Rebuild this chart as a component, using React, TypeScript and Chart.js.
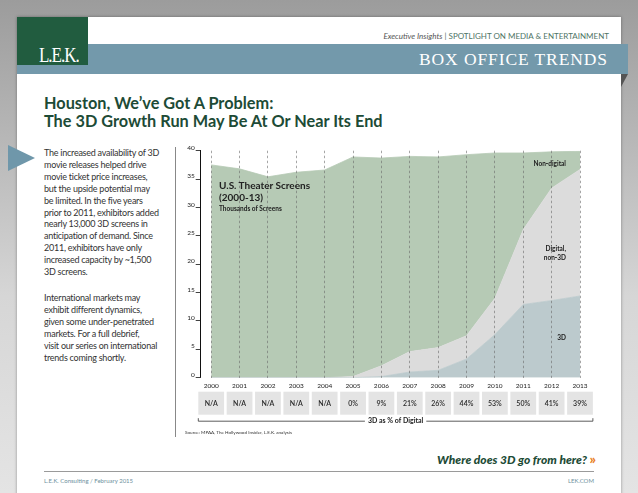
import React, { useEffect, useRef } from "react";
import { Chart, registerables } from "chart.js";

Chart.register(...registerables);

// ---- data ----
const years = [2000, 2001, 2002, 2003, 2004, 2005, 2006, 2007, 2008, 2009, 2010, 2011, 2012, 2013];
const screens3D = [0, 0, 0, 0, 0, 0, 0.2, 1.0, 1.3, 3.3, 7.6, 12.9, 13.6, 14.4];
const screensDigitalNon3D = [0, 0, 0, 0, 0, 0.2, 1.9, 3.6, 4.0, 4.1, 6.4, 13.2, 19.8, 22.3];
const screensNonDigital = [37.5, 36.8, 35.4, 36.2, 36.6, 38.7, 36.6, 34.4, 33.6, 31.9, 25.6, 13.5, 6.4, 3.2];
const shareOfDigital = ["N/A", "N/A", "N/A", "N/A", "N/A", "0%", "9%", "21%", "26%", "44%", "53%", "50%", "41%", "39%"];
const yTicks = [0, 5, 10, 15, 20, 25, 30, 35, 40];
const tableLabel = "3D as % of Digital";

const FONT = "Lato, 'Open Sans', sans-serif";

const tablePlugin = {
  id: "shareTable",
  afterDraw(chart: any) {
    const { ctx, scales, chartArea } = chart;
    const x = scales.x;
    const step = x.getPixelForValue(years[1]) - x.getPixelForValue(years[0]);
    const w = step - 2.6;
    const top = chartArea.bottom + 14;
    const h = 23;
    ctx.save();
    years.forEach((yr, i) => {
      const cx = x.getPixelForValue(yr);
      ctx.fillStyle = "#e4e4e4";
      ctx.fillRect(cx - w / 2, top, w, h);
      ctx.fillStyle = "#2b2b2b";
      ctx.font = `600 7px ${FONT}`;
      ctx.textAlign = "center";
      ctx.textBaseline = "middle";
      ctx.fillText(shareOfDigital[i], cx, top + h / 2 + 0.5);
    });
    const left = x.getPixelForValue(years[0]) - w / 2;
    const right = x.getPixelForValue(years[years.length - 1]) + w / 2;
    const by = top + h + 6.5;
    ctx.strokeStyle = "#333";
    ctx.lineWidth = 0.8;
    ctx.beginPath();
    ctx.moveTo(left, by - 3);
    ctx.lineTo(left, by);
    ctx.lineTo(right, by);
    ctx.lineTo(right, by - 3);
    ctx.stroke();
    ctx.font = `bold 7px ${FONT}`;
    const mid = (left + right) / 2;
    const tw = ctx.measureText(tableLabel).width;
    ctx.fillStyle = "#fff";
    ctx.fillRect(mid - tw / 2 - 3, by - 5, tw + 6, 10);
    ctx.fillStyle = "#222";
    ctx.textAlign = "center";
    ctx.textBaseline = "middle";
    ctx.fillText(tableLabel, mid, by);
    ctx.restore();
  },
};

function ScreensChart() {
  const ref = useRef<HTMLCanvasElement>(null);
  useEffect(() => {
    if (!ref.current) return;
    const mk = (arr: number[]) => years.map((yr, i) => ({ x: yr, y: arr[i] }));
    const chart = new Chart(ref.current, {
      type: "line",
      data: {
        datasets: [
          {
            label: "3D",
            data: mk(screens3D),
            fill: "origin",
            backgroundColor: "#bccacd",
            borderColor: "#bccacd",
            borderWidth: 0.8,
          },
          {
            label: "Digital, non-3D",
            data: mk(screensDigitalNon3D),
            fill: "-1",
            backgroundColor: "#dcdcdc",
            borderColor: "#dcdcdc",
            borderWidth: 0.8,
          },
          {
            label: "Non-digital",
            data: mk(screensNonDigital),
            fill: "-1",
            backgroundColor: "#b6cab5",
            borderColor: "#b6cab5",
            borderWidth: 0.8,
          },
        ],
      },
      options: {
        animation: false,
        responsive: false,
        maintainAspectRatio: false,
        layout: { padding: { top: 10.7, left: 0, right: 26, bottom: 0 } },
        plugins: { legend: { display: false }, tooltip: { enabled: false } },
        elements: { point: { radius: 0 }, line: { tension: 0 } },
        scales: {
          x: {
            type: "linear",
            min: 1999.63,
            max: 2013,
            afterBuildTicks: (s: any) => {
              s.ticks = years.map((v) => ({ value: v }));
            },
            afterFit: (s: any) => {
              s.height = 62.3;
            },
            grid: {
              display: true,
              drawOnChartArea: true,
              drawTicks: false,
              color: "#6a6a6a",
              lineWidth: 0.6,
              z: 1,
            },
            border: { display: false, dash: [2.5, 2.5] },
            ticks: {
              autoSkip: false,
              maxRotation: 0,
              padding: 4,
              color: "#222",
              font: { family: FONT, size: 6.5 },
              callback: (v: any) => String(v),
            },
          },
          y: {
            stacked: true,
            min: 0,
            max: 40,
            afterBuildTicks: (s: any) => {
              s.ticks = yTicks.map((v) => ({ value: v }));
            },
            afterFit: (s: any) => {
              s.width = 24.7;
            },
            grid: {
              drawOnChartArea: false,
              drawTicks: true,
              tickLength: 5,
              color: "#111",
              lineWidth: 0.8,
            },
            border: { display: true, color: "#111", width: 1 },
            ticks: {
              padding: 1,
              labelOffset: -3,
              color: "#222",
              font: { family: FONT, size: 6.5 },
            },
          },
        },
      },
      plugins: [tablePlugin],
    } as any);
    return () => chart.destroy();
  }, []);
  return (
    <canvas
      ref={ref}
      width={430}
      height={300}
      style={{ position: "absolute", left: 176, top: 140, width: 430, height: 300 }}
    />
  );
}

const para1 = [
  "The increased availability of 3D",
  "movie releases helped drive",
  "movie ticket price increases,",
  "but the upside potential may",
  "be limited. In the five years",
  "prior to 2011, exhibitors added",
  "nearly 13,000 3D screens in",
  "anticipation of demand. Since",
  "2011, exhibitors have only",
  "increased capacity by ~1,500",
  "3D screens.",
];
const para2 = [
  "International markets may",
  "exhibit different dynamics,",
  "given some under-penetrated",
  "markets. For a full debrief,",
  "visit our series on international",
  "trends coming shortly.",
];

const abs = (l: number, t: number, extra: any = {}) => ({ position: "absolute" as const, left: l, top: t, ...extra });

export default function App() {
  return (
    <div
      style={{
        position: "fixed",
        left: 0,
        top: 0,
        width: 638,
        height: 493,
        overflow: "hidden",
        background: "linear-gradient(180deg, #9c9c9c 0%, #b4b4b4 25%, #d6d6d6 60%, #e4e4e4 100%)",
        fontFamily: FONT,
      }}
    >
      {/* page card */}
      <div style={abs(17, 17, { width: 604, height: 500, background: "#fff", boxShadow: "0 0 3px rgba(0,0,0,0.35)" })} />
      {/* band */}
      <div style={abs(17, 44, { width: 611, height: 30, background: "#7399ab" })} />
      <div style={abs(621, 74, { width: 7, height: 13, background: "#555", clipPath: "polygon(0 0, 100% 0, 0 100%)" })} />
      {/* logo */}
      <div style={abs(17, 17, { width: 71, height: 48, background: "#215c3f" })} />
      <div
        style={abs(39, 45, {
          color: "#fff",
          fontFamily: "'Liberation Serif', serif",
          fontSize: 20,
          lineHeight: "20px",
          letterSpacing: -1.2,
          transform: "scaleX(0.85)",
          transformOrigin: "left",
        })}
      >
        L.E.K.
      </div>
      {/* header texts */}
      <div style={abs(0, 32, { width: 609, textAlign: "right", fontSize: 8, lineHeight: "9px", whiteSpace: "nowrap" })}>
        <span style={{ fontStyle: "italic", color: "#555" }}>Executive Insights</span>
        <span style={{ color: "#4f7566" }}> | SPOTLIGHT ON MEDIA &amp; ENTERTAINMENT</span>
      </div>
      <div
        style={abs(0, 49, {
          width: 608,
          textAlign: "right",
          color: "#fff",
          fontFamily: "'Liberation Serif', serif",
          fontSize: 17.5,
          lineHeight: "20px",
          letterSpacing: 0.9,
          whiteSpace: "nowrap",
        })}
      >
        BOX OFFICE TRENDS
      </div>
      {/* title */}
      <div style={abs(44, 94, { color: "#1d4b36", fontWeight: 700, fontSize: 16.3, lineHeight: "18px", whiteSpace: "nowrap" })}>
        <div>Houston, We’ve Got A Problem:</div>
        <div>The 3D Growth Run May Be At Or Near Its End</div>
      </div>
      {/* triangle */}
      <div style={abs(8, 145, { width: 27, height: 26, background: "#6f97aa", clipPath: "polygon(0 0, 100% 50%, 0 100%)" })} />
      {/* left text */}
      <div style={abs(44, 147, { color: "#333", fontSize: 9, lineHeight: "11.9px", letterSpacing: -0.25, whiteSpace: "nowrap" })}>
        {para1.map((l) => (
          <div key={l}>{l}</div>
        ))}
        <div style={{ height: 14 }} />
        {para2.map((l) => (
          <div key={l}>{l}</div>
        ))}
      </div>
      {/* divider */}
      <div style={abs(175, 147, { width: 1, height: 290, background: "#888" })} />

      <ScreensChart />

      {/* chart annotations */}
      <div style={abs(219, 179, { color: "#222", fontWeight: 700, fontSize: 10, lineHeight: "12px", whiteSpace: "nowrap" })}>
        <div>U.S. Theater Screens</div>
        <div>(2000-13)</div>
        <div style={{ fontSize: 6.5, lineHeight: "9px", marginTop: 1 }}>Thousands of Screens</div>
      </div>
      <div style={abs(480, 160, { width: 86, textAlign: "right", color: "#222", fontWeight: 700, fontSize: 6.5, lineHeight: "8px" })}>
        Non-digital
      </div>
      <div style={abs(480, 245, { width: 86, textAlign: "right", color: "#222", fontWeight: 700, fontSize: 6.5, lineHeight: "8.5px" })}>
        <div>Digital,</div>
        <div>non-3D</div>
      </div>
      <div style={abs(480, 334, { width: 86, textAlign: "right", color: "#222", fontWeight: 700, fontSize: 6.5, lineHeight: "8px" })}>
        3D
      </div>
      <div style={abs(185, 429, { color: "#333", fontSize: 4.6, lineHeight: "6px", whiteSpace: "nowrap" })}>
        Source: MPAA, The Hollywood Insider, L.E.K. analysis
      </div>

      {/* footer */}
      <div
        style={abs(0, 452, {
          width: 596,
          textAlign: "right",
          fontWeight: 900,
          fontStyle: "italic",
          fontSize: 12,
          lineHeight: "14px",
          color: "#1d4b36",
          whiteSpace: "nowrap",
        })}
      >
        Where does 3D go from here?{" "}
        <span style={{ color: "#e97e22", fontStyle: "normal", fontWeight: 900, fontSize: 14 }}>»</span>
      </div>
      <div style={abs(44, 471, { width: 550, height: 1, background: "#9a9a9a" })} />
      <div style={abs(44, 477, { color: "#6e8f9d", fontSize: 6, lineHeight: "8px", whiteSpace: "nowrap" })}>
        L.E.K. Consulting / February 2015
      </div>
      <div style={abs(0, 477, { width: 594, textAlign: "right", color: "#6e8f9d", fontSize: 6, lineHeight: "8px" })}>
        LEK.COM
      </div>
    </div>
  );
}
